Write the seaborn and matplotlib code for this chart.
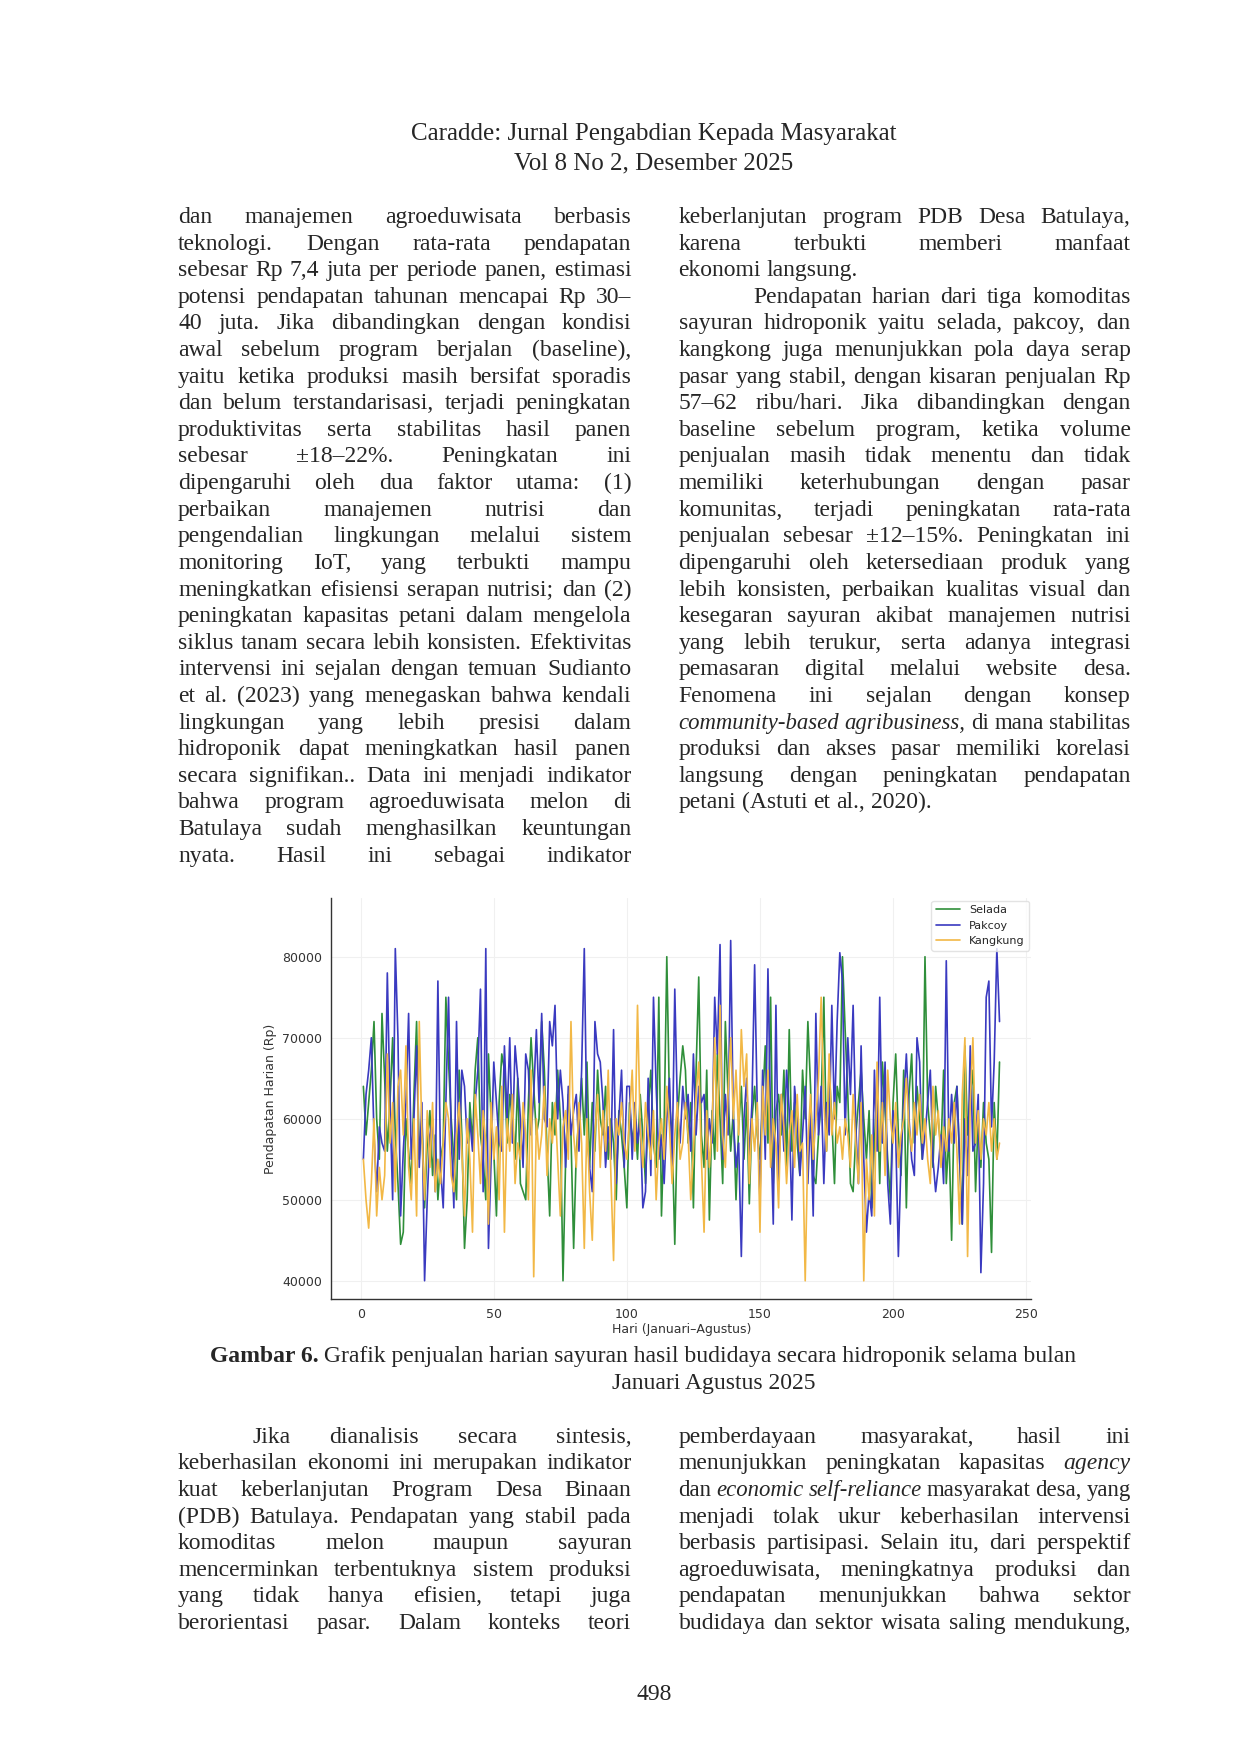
import numpy as np
import pandas as pd
import matplotlib
matplotlib.use("Agg")
import matplotlib.pyplot as plt
import seaborn as sns

selada = [64,58,62,66,72,60,55,73,65,56,62,70,58,52,44.5,46,60,56,52,63,
72,55,60,49,57,61,53,58,50,55,57,75,67,60,55,50,66,58,44,50,
62,57,66,70,58,55,50,68,60,56,48,62,68,66,57,63,60,55,65,52,
51,50,62,70,64,58,60,72,66,56,48,62,58,66,60,40,55,63,58,44,
56,60,65,58,67,54,62,56,66,60,58,64,55,60,57,50,61,58,54,49,
62,57,60,55,63,58,52,61,66,57,54,75,48,59,80,62,58,44.5,60,65,
69,66,57,62,49,66,77.5,58,54,66,47.5,61,55,68,60,52,72,63,56,61,
50,59,64,55,62,49.5,60,64,58,55,62,69,57,75,52,61,63,58,66,54,
71,56,62,57,53,66,60,72,64,53,52,58,62,75,56,66,60,52,64,62,
80,71,63,52,51,58,62,66,60,55,61,49,57,64,52,67,61,55,50,62,
68,58,53,66,49,63,68,57,64,60,55,80,62,58,54,64,60,56,66,52,
58,45,62,64,55,47,69,58,63,66,51,60,54,62,57,55,43.5,62,55,67]
pakcoy = [55,63,66,70,58,51,59,57,56,78,62,50,81,70,48,56,62,73,55,60,
69,54,62,40,50,58,60,51,77,54,49,62,75,58,49,72,55,66,64,57,
60,56,62,66,76,51,81,44,55,67,62,57,56,69,60,70,57,69,65,60,
54,68,66,58,63,71,62,73,60,59,72,69,74,60,66,62,54,64,58,61,
63,56,66,81,58,54,51,72,68,67,62,54,59,55,71,52,60,66,54,64,
64,55,62,57,60,49,51,65,53,75,64,55,58,52,60,65,54,76,61,57,
64,60,63,56,68,58,64,62,63,55,60,57,75,68,81.5,55,63,58,82,60,
54,57,43,60,65,55,62,79,61,50,66,55,78.5,60,47,74,52,63,56,66,
61,47.5,64,60,53,58,64,52,61,48,73,58,64,52,62,58,74,60,72,80.5,
77,58,70,63,74,59,52,69,55,46,51,48,66,56,75,57,67,52,47,61,
58,43,55,62,68,60,55,53,70,67,55,58,62,66,55,51,54,58,52,79.5,
56,63,57,64,55,47,60,53,69,56,57,63,41,52,75,77,59,67,81,72]
kangkung = [55,50,46.5,52,60,48,54,50,53,68,57,62,51,64,66,58,69,54,50,60,
48,72,58,50,61,54,62,51,55,52,57,62,60,53,51,58,62,56,48,60,
55,46,63,58,52,61,57,47,62,55,59,50,64,46,60,56,63,52,57,55,
62,58,50,66,40.5,60,55,58,64,53,60,57,62,55,48,59,61,55,72,58,
54,62,57,44,60,51,45,58,63,54,61,56,66,53,42.5,60,58,62,57,55,
60,66,56,74,59,54,62,58,55,61,50,57,60,55,64,59,52,58,62,55,
57,62,58,50,56,63,67,55,46,61,54,59,70,56,74,58,54,63,70,60,
66,58,71,64,68,52,60,56,62,46,64,58,66,54,60,57,49,63,59,52,
58,61,54,63,56,57,40,57,63,55,60,65,75,62,56,68,58,62,57,59,
55,60,58,54,63,57,52,62,40,55,50,58,48,67,56,62,53,66,60,57,
62,54,58,60,65,59,56,62,58,63,57,60,55,52,64,58,61,54,59,56,
60,57,62,56,47,63,70,43,62,70,57,61,55,60,58,62,56,60,55,57]
days = list(range(1, 241))
series_names = ["Selada", "Pakcoy", "Kangkung"]
colors = ["#2f8f3a", "#3a3ac0", "#f2b846"]
xticks = [0, 50, 100, 150, 200, 250]
yticks = [40000, 50000, 60000, 70000, 80000]

header = ["Caradde: Jurnal Pengabdian Kepada Masyarakat", "Vol 8 No 2, Desember 2025"]
left_col = [
"dan manajemen agroeduwisata berbasis",
"teknologi. Dengan rata-rata pendapatan",
"sebesar Rp 7,4 juta per periode panen, estimasi",
"potensi pendapatan tahunan mencapai Rp 30–",
"40 juta. Jika dibandingkan dengan kondisi",
"awal sebelum program berjalan (baseline),",
"yaitu ketika produksi masih bersifat sporadis",
"dan belum terstandarisasi, terjadi peningkatan",
"produktivitas serta stabilitas hasil panen",
"sebesar ±18–22%. Peningkatan ini",
"dipengaruhi oleh dua faktor utama: (1)",
"perbaikan manajemen nutrisi dan",
"pengendalian lingkungan melalui sistem",
"monitoring IoT, yang terbukti mampu",
"meningkatkan efisiensi serapan nutrisi; dan (2)",
"peningkatan kapasitas petani dalam mengelola",
"siklus tanam secara lebih konsisten. Efektivitas",
"intervensi ini sejalan dengan temuan Sudianto",
"et al. (2023) yang menegaskan bahwa kendali",
"lingkungan yang lebih presisi dalam",
"hidroponik dapat meningkatkan hasil panen",
"secara signifikan.. Data ini menjadi indikator",
"bahwa program agroeduwisata melon di",
"Batulaya sudah menghasilkan keuntungan",
"nyata. Hasil ini sebagai indikator"]
right_col = [
"keberlanjutan program PDB Desa Batulaya,",
"karena terbukti memberi manfaat",
"ekonomi langsung.",
"Pendapatan harian dari tiga komoditas",
"sayuran hidroponik yaitu selada, pakcoy, dan",
"kangkong juga menunjukkan pola daya serap",
"pasar yang stabil, dengan kisaran penjualan Rp",
"57–62 ribu/hari. Jika dibandingkan dengan",
"baseline sebelum program, ketika volume",
"penjualan masih tidak menentu dan tidak",
"memiliki keterhubungan dengan pasar",
"komunitas, terjadi peningkatan rata-rata",
"penjualan sebesar ±12–15%. Peningkatan ini",
"dipengaruhi oleh ketersediaan produk yang",
"lebih konsisten, perbaikan kualitas visual dan",
"kesegaran sayuran akibat manajemen nutrisi",
"yang lebih terukur, serta adanya integrasi",
"pemasaran digital melalui website desa.",
"Fenomena ini sejalan dengan konsep",
"_community-based _agribusiness, di mana stabilitas",
"produksi dan akses pasar memiliki korelasi",
"langsung dengan peningkatan pendapatan",
"petani (Astuti et al., 2020)."]
right_last = {2, 22}
right_indent = {3}
bottom_left = [
"Jika dianalisis secara sintesis,",
"keberhasilan ekonomi ini merupakan indikator",
"kuat keberlanjutan Program Desa Binaan",
"(PDB) Batulaya. Pendapatan yang stabil pada",
"komoditas melon maupun sayuran",
"mencerminkan terbentuknya sistem produksi",
"yang tidak hanya efisien, tetapi juga",
"berorientasi pasar. Dalam konteks teori"]
bottom_right = [
"pemberdayaan masyarakat, hasil ini",
"menunjukkan peningkatan kapasitas _agency",
"dan _economic _self-reliance masyarakat desa, yang",
"menjadi tolak ukur keberhasilan intervensi",
"berbasis partisipasi. Selain itu, dari perspektif",
"agroeduwisata, meningkatnya produksi dan",
"pendapatan menunjukkan bahwa sektor",
"budidaya dan sektor wisata saling mendukung,"]
caption_bold = "Gambar 6."
caption1 = " Grafik penjualan harian sayuran hasil budidaya secara hidroponik selama bulan"
caption2 = "Januari Agustus 2025"
page_no = "498"

sns.set_style("whitegrid")
plt.rcParams['font.family'] = ['DejaVu Sans']
fig = plt.figure(figsize=(12.4, 17.54), dpi=100)
DW, DH = 1100.0, 1556.0
def fx(x): return x / DW
def fy(y): return 1 - y / DH

SERIF = "Liberation Serif"
FS = 17.0
renderer = fig.canvas.get_renderer()

def word_w(w, style, fs):
    t = fig.text(0, 0, w, fontsize=fs, family=SERIF, style=style)
    bb = t.get_window_extent(renderer)
    t.remove()
    return bb.width / 1240.0

def draw_line(line, x0, x1, y, justify=True, indent=0):
    toks = []
    for w in line.split(" "):
        toks.append((w[1:], "italic") if w.startswith("_") else (w, "normal"))
    xs = fx(x0 + indent); xe = fx(x1)
    fs = FS
    while True:
        widths = [word_w(w, s, fs) for w, s in toks]
        minsp = word_w("a", "normal", fs) * 0.45
        if sum(widths) + minsp * (len(toks) - 1) <= xe - xs or fs < 12:
            break
        fs -= 0.3
    total = sum(widths)
    if justify and len(toks) > 1:
        gap = (xe - xs - total) / (len(toks) - 1)
    else:
        gap = word_w("a", "normal", fs) * 0.55
    x = xs
    for (w, s), wd in zip(toks, widths):
        fig.text(x, fy(y), w, fontsize=fs, family=SERIF, style=s, va="center", ha="left")
        x += wd + gap

for i, h in enumerate(header):
    fig.text(fx(580), fy(119 + 26 * i), h, fontsize=18, family=SERIF, ha="center", va="center")

LS = 23.6
for i, ln in enumerate(left_col):
    draw_line(ln, 158, 560, 193 + LS * i)
for i, ln in enumerate(right_col):
    draw_line(ln, 602, 1003, 193 + LS * i, justify=(i not in right_last),
              indent=(66 if i in right_indent else 0))
for i, ln in enumerate(bottom_left):
    draw_line(ln, 158, 560, 1275 + LS * i, indent=(66 if i == 0 else 0))
for i, ln in enumerate(bottom_right):
    draw_line(ln, 602, 1003, 1275 + LS * i)

# caption
t1 = fig.text(fx(186), fy(1203), caption_bold, fontsize=FS, family=SERIF, weight="bold", va="center")
bb = t1.get_window_extent(renderer)
fig.text(bb.x1 / 1240.0, fy(1203), caption1, fontsize=FS, family=SERIF, va="center")
fig.text(fx(633), fy(1227), caption2, fontsize=FS, family=SERIF, va="center", ha="center")
fig.text(fx(580), fy(1503), page_no, fontsize=FS, family=SERIF, va="center", ha="center")

# chart
ax = fig.add_axes([fx(294), fy(1152), fx(915) - fx(294), fy(797) - fy(1152)])
df = pd.DataFrame({
    "Hari": days * 3,
    "Pendapatan": [v * 1000 for v in selada + pakcoy + kangkung],
    "Komoditas": sum([[n] * len(days) for n in series_names], []),
})
sns.lineplot(data=df, x="Hari", y="Pendapatan", hue="Komoditas",
             palette=dict(zip(series_names, colors)), linewidth=1.2, ax=ax)
ax.set_xlim(-11, 252)
ax.set_ylim(37800, 87200)
ax.set_xticks(xticks)
ax.set_yticks(yticks)
ax.grid(True, color="#f0f0f0", linewidth=0.8)
for s in ["top", "right"]:
    ax.spines[s].set_visible(False)
for s in ["left", "bottom"]:
    ax.spines[s].set_color("#333333")
    ax.spines[s].set_linewidth(1.0)
ax.tick_params(axis="both", labelsize=9, length=3, color="#333333", colors="#333333")
ax.set_xlabel("Hari (Januari–Agustus)", fontsize=9, color="#333333", labelpad=2)
ax.set_ylabel("Pendapatan Harian (Rp)", fontsize=9, color="#333333", labelpad=4)
leg = ax.legend(loc="upper right", fontsize=8, frameon=True, title=None,
                handlelength=2.2, borderaxespad=0.2)
leg.get_frame().set_edgecolor("#dddddd")

fig.savefig("out.png", dpi=100)
